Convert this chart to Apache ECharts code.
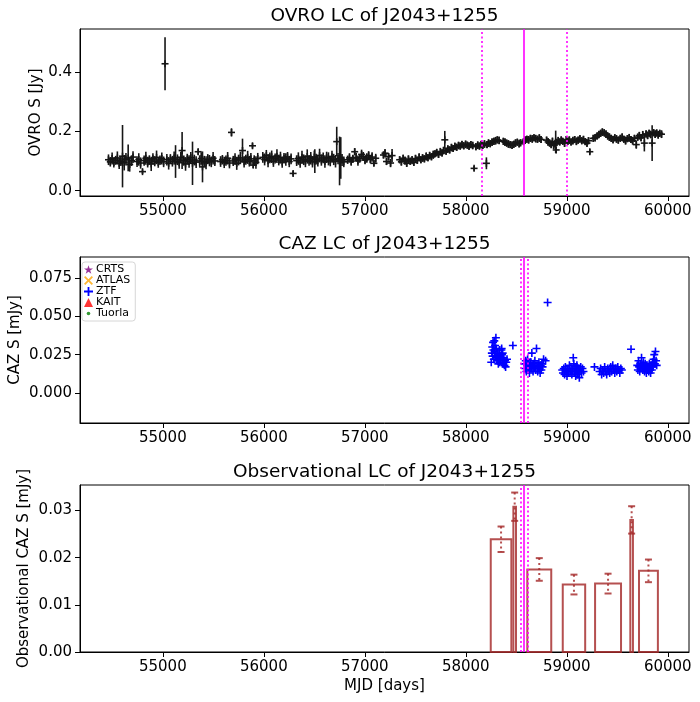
<!DOCTYPE html>
<html>
<head>
<meta charset="utf-8">
<script src="https://cdn.jsdelivr.net/npm/echarts@6/dist/echarts.min.js"></script>
<style>
  html, body { margin: 0; padding: 0; background: #fff; }
  #chart { width: 700px; height: 702px; }
</style>
</head>
<body>
<div id="chart"></div>
<script>
// OVRO 15 GHz light curve: [MJD, flux (Jy), error]
var ovroPoints = [
  [54462,0.104,0.018],[54480,0.097,0.016],[54498,0.108,0.020],[54515,0.095,0.017],[54533,0.102,0.015],
  [54550,0.110,0.022],[54568,0.092,0.019],[54585,0.099,0.016],[54601,0.116,0.105],[54618,0.094,0.026],
  [54635,0.106,0.021],[54657,0.110,0.045],[54672,0.088,0.024],[54690,0.101,0.018],[54705,0.113,0.020],
  [54745,0.098,0.018],[54762,0.105,0.021],[54780,0.093,0.019],[54799,0.064,0.008],[54815,0.101,0.017],
  [54832,0.109,0.022],[54850,0.096,0.018],[54867,0.103,0.016],[54885,0.090,0.024],[54902,0.107,0.019],
  [54920,0.099,0.017],[54938,0.112,0.023],[54955,0.095,0.018],[54972,0.102,0.016],[54990,0.108,0.020],
  [55008,0.097,0.018],[55022,0.427,0.089],[55040,0.104,0.019],[55058,0.092,0.021],[55075,0.106,0.017],
  [55095,0.099,0.018],[55112,0.110,0.022],[55126,0.098,0.055],[55145,0.104,0.018],[55162,0.094,0.020],
  [55178,0.112,0.019],[55191,0.135,0.062],[55208,0.101,0.017],[55225,0.090,0.023],[55242,0.106,0.018],
  [55260,0.098,0.021],[55277,0.111,0.019],[55294,0.092,0.073],[55312,0.103,0.018],[55330,0.096,0.020],
  [55350,0.131,0.010],[55365,0.100,0.019],[55380,0.108,0.021],[55393,0.080,0.052],[55410,0.099,0.018],
  [55428,0.094,0.022],[55445,0.106,0.017],[55462,0.101,0.019],[55480,0.097,0.018],[55498,0.109,0.021],
  [55515,0.100,0.017],
  [55572,0.098,0.018],[55590,0.104,0.016],[55608,0.095,0.019],[55625,0.101,0.017],[55642,0.109,0.021],
  [55660,0.093,0.018],[55680,0.196,0.014],[55697,0.100,0.017],[55715,0.106,0.020],[55732,0.092,0.022],
  [55750,0.103,0.018],[55768,0.110,0.021],[55789,0.135,0.040],[55805,0.097,0.019],[55822,0.104,0.017],
  [55840,0.112,0.022],[55857,0.099,0.018],[55872,0.107,0.020],[55888,0.151,0.009],[55895,0.086,0.010],
  [55905,0.101,0.018],[55922,0.095,0.021],[55940,0.108,0.019],
  [55990,0.112,0.018],[56008,0.105,0.020],[56025,0.118,0.019],[56042,0.101,0.022],[56060,0.110,0.018],
  [56078,0.114,0.021],[56095,0.099,0.019],[56112,0.108,0.017],[56130,0.116,0.023],[56148,0.103,0.018],
  [56165,0.111,0.020],[56182,0.096,0.019],[56200,0.109,0.018],[56218,0.105,0.021],[56235,0.113,0.017],
  [56252,0.098,0.019],[56270,0.107,0.018],[56290,0.058,0.008],
  [56325,0.101,0.018],[56342,0.108,0.021],[56360,0.096,0.019],[56378,0.112,0.022],[56395,0.104,0.018],
  [56412,0.099,0.020],[56430,0.115,0.024],[56448,0.102,0.018],[56465,0.109,0.021],[56482,0.097,0.019],
  [56500,0.113,0.022],[56505,0.099,0.040],[56518,0.106,0.018],[56535,0.101,0.020],[56552,0.118,0.023],
  [56570,0.103,0.019],[56588,0.110,0.018],[56605,0.098,0.021],[56622,0.112,0.019],[56640,0.107,0.022],
  [56658,0.100,0.018],[56675,0.114,0.020],[56692,0.105,0.019],[56710,0.099,0.021],[56722,0.165,0.050],
  [56735,0.108,0.019],[56750,0.100,0.082],[56762,0.110,0.070],[56775,0.103,0.020],[56792,0.097,0.018],
  [56830,0.104,0.014],[56848,0.110,0.016],[56865,0.099,0.015],[56882,0.107,0.014],[56900,0.131,0.012],
  [56915,0.112,0.015],[56932,0.101,0.017],[56950,0.108,0.014],[56968,0.122,0.016],[56985,0.115,0.015],
  [57002,0.103,0.014],[57020,0.110,0.016],[57038,0.118,0.015],[57055,0.106,0.014],[57072,0.113,0.016],
  [57090,0.092,0.010],[57108,0.109,0.015],
  [57185,0.120,0.012],[57200,0.126,0.014],[57215,0.098,0.012],[57235,0.114,0.013],[57255,0.093,0.014],
  [57270,0.118,0.022],
  [57345,0.104,0.012],[57362,0.097,0.013],[57380,0.109,0.012],[57398,0.101,0.014],[57415,0.092,0.012],
  [57432,0.106,0.013],[57450,0.099,0.012],[57468,0.103,0.014],[57485,0.095,0.012],[57502,0.108,0.013],
  [57520,0.102,0.012],[57538,0.112,0.014],[57555,0.104,0.012],[57572,0.110,0.013],[57590,0.107,0.012],
  [57608,0.115,0.014],[57625,0.111,0.012],[57642,0.118,0.013],[57660,0.114,0.012],[57678,0.121,0.014],
  [57695,0.124,0.012],[57712,0.128,0.013],[57730,0.122,0.012],[57748,0.131,0.013],[57765,0.127,0.012],
  [57780,0.135,0.013],[57792,0.171,0.030],[57805,0.133,0.012],[57822,0.140,0.013],[57840,0.137,0.012],
  [57858,0.145,0.013],[57875,0.142,0.012],[57892,0.149,0.013],[57910,0.146,0.012],[57928,0.152,0.013],
  [57945,0.150,0.012],[57962,0.155,0.013],[57980,0.151,0.012],[57998,0.156,0.013],[58015,0.153,0.012],
  [58032,0.150,0.013],[58050,0.155,0.012],[58068,0.152,0.013],[58082,0.075,0.008],[58100,0.148,0.012],
  [58118,0.153,0.013],[58135,0.150,0.012],[58152,0.155,0.013],
  [58168,0.152,0.012],[58185,0.157,0.013],[58204,0.092,0.020],[58210,0.155,0.012],[58225,0.160,0.013],
  [58242,0.158,0.012],[58260,0.163,0.013],[58278,0.166,0.012],[58295,0.168,0.013],[58312,0.171,0.012],
  [58330,0.169,0.013],
  [58372,0.166,0.012],[58388,0.163,0.013],[58405,0.160,0.012],[58422,0.157,0.013],[58440,0.155,0.012],
  [58458,0.153,0.013],[58475,0.156,0.012],[58492,0.160,0.013],[58510,0.163,0.012],[58528,0.158,0.013],
  [58542,0.161,0.012],
  [58572,0.165,0.012],[58588,0.170,0.013],[58605,0.173,0.012],[58622,0.171,0.013],[58640,0.176,0.012],
  [58658,0.174,0.013],[58675,0.178,0.012],[58692,0.175,0.013],[58710,0.173,0.012],[58728,0.177,0.013],
  [58745,0.172,0.012],
  [58800,0.170,0.012],[58815,0.164,0.013],[58830,0.160,0.012],[58845,0.156,0.013],[58858,0.165,0.014],
  [58870,0.152,0.012],[58885,0.158,0.013],[58890,0.164,0.038],[58895,0.137,0.010],[58900,0.162,0.012],
  [58915,0.168,0.013],[58930,0.164,0.012],[58945,0.170,0.013],[58960,0.166,0.012],[58978,0.160,0.013],
  [58995,0.172,0.012],
  [59010,0.166,0.012],[59025,0.170,0.013],[59042,0.164,0.012],[59060,0.168,0.013],[59078,0.172,0.012],
  [59095,0.166,0.013],[59112,0.170,0.012],[59130,0.174,0.013],[59148,0.168,0.012],[59165,0.172,0.013],
  [59182,0.165,0.012],[59200,0.160,0.013],[59215,0.168,0.012],[59228,0.131,0.009],
  [59262,0.176,0.012],[59280,0.178,0.013],[59300,0.184,0.012],[59318,0.189,0.013],[59335,0.193,0.012],
  [59352,0.197,0.013],[59370,0.195,0.012],[59388,0.190,0.013],[59405,0.184,0.012],[59422,0.180,0.013],
  [59440,0.176,0.012],[59458,0.172,0.013],[59475,0.178,0.012],[59492,0.174,0.013],[59510,0.170,0.012],
  [59530,0.176,0.012],[59548,0.180,0.013],[59565,0.173,0.012],[59582,0.168,0.013],[59600,0.175,0.012],
  [59618,0.178,0.013],[59635,0.172,0.012],[59652,0.168,0.013],[59670,0.176,0.012],[59688,0.155,0.014],
  [59702,0.180,0.012],[59718,0.185,0.013],[59735,0.178,0.012],[59752,0.188,0.013],[59768,0.160,0.028],
  [59785,0.191,0.012],[59800,0.186,0.013],[59815,0.193,0.012],[59830,0.189,0.013],[59845,0.160,0.060],
  [59860,0.195,0.012],[59875,0.190,0.013],[59890,0.194,0.012],[59905,0.188,0.013],[59920,0.193,0.012],
  [59938,0.190,0.013]
];

// ZTF optical light curve: [MJD, flux (mJy)]
var ztfPoints = [
  [58252,0.020],[58258,0.026],[58262,0.030],[58266,0.024],[58270,0.033],[58274,0.028],[58278,0.022],
  [58282,0.034],[58286,0.027],[58290,0.031],[58294,0.024],[58298,0.036],[58302,0.029],[58306,0.023],
  [58310,0.026],[58314,0.021],[58318,0.025],[58322,0.019],[58328,0.023],[58333,0.028],[58334,0.020],
  [58340,0.024],[58346,0.022],[58352,0.028],[58355,0.029],[58358,0.025],[58364,0.021],[58365,0.026],
  [58370,0.019],[58376,0.023],[58382,0.018],[58388,0.021],[58394,0.017],[58400,0.020],[58408,0.022],
  [58466,0.031],
  [58582,0.019],[58588,0.016],[58594,0.021],[58600,0.014],[58606,0.018],[58612,0.022],[58618,0.015],
  [58624,0.019],[58630,0.013],[58636,0.017],[58642,0.020],[58648,0.016],[58654,0.026],[58660,0.018],
  [58666,0.014],[58672,0.019],[58678,0.017],[58684,0.021],[58690,0.015],[58700,0.029],[58706,0.018],
  [58712,0.014],[58718,0.017],[58724,0.020],[58730,0.016],[58736,0.013],[58742,0.018],[58748,0.015],
  [58754,0.019],[58760,0.017],[58770,0.022],[58790,0.021],[58810,0.059],
  [58955,0.015],[58962,0.013],[58970,0.016],[58978,0.012],[58986,0.017],[58994,0.014],[59002,0.011],
  [59010,0.015],[59018,0.013],[59026,0.018],[59034,0.014],[59042,0.016],[59050,0.012],[59058,0.015],
  [59064,0.023],[59070,0.019],[59076,0.013],[59082,0.017],[59088,0.011],[59094,0.015],[59100,0.018],
  [59106,0.012],[59112,0.016],[59118,0.014],[59124,0.010],[59130,0.015],[59138,0.017],[59146,0.013],
  [59155,0.016],[59165,0.014],
  [59274,0.017],
  [59325,0.014],[59335,0.016],[59345,0.012],[59355,0.015],[59365,0.013],[59375,0.017],[59385,0.014],
  [59395,0.012],[59405,0.016],[59415,0.015],[59425,0.013],[59435,0.017],[59445,0.014],[59455,0.018],
  [59465,0.015],[59475,0.013],[59485,0.016],[59495,0.014],[59505,0.017],[59515,0.015],[59525,0.013],
  [59535,0.016],[59545,0.015],
  [59636,0.0285],
  [59698,0.018],[59704,0.015],[59710,0.021],[59716,0.017],[59722,0.014],[59728,0.019],[59734,0.016],
  [59740,0.023],[59746,0.018],[59752,0.015],[59758,0.020],[59764,0.017],[59770,0.014],[59776,0.019],
  [59782,0.016],[59788,0.013],[59794,0.018],[59800,0.015],[59806,0.017],[59812,0.014],[59818,0.019],
  [59824,0.016],[59830,0.013],[59836,0.018],[59842,0.015],[59848,0.020],[59854,0.017],[59860,0.022],
  [59866,0.025],[59872,0.019],[59878,0.027],[59884,0.021],[59890,0.018]
];

// observational (binned) light curve
var binStart = [58247, 58471, 58609, 58960, 59280, 59629, 59715];
var binEnd   = [58451, 58497, 58846, 59182, 59537, 59655, 59902];
var binFlux  = [0.0239, 0.0308, 0.0175, 0.0143, 0.0145, 0.0280, 0.0172];
var binErr   = [0.0027, 0.0030, 0.0024, 0.0021, 0.0021, 0.0029, 0.0024];

// flare markers
var ovroPeak = 58575;
var ovroBounds = [58162, 59003];
var cazPeak = 58575;
var cazBounds = [58549, 58611];

var xTicks = [55000, 56000, 57000, 58000, 59000, 60000];
var ovroTicks = [0.0, 0.2, 0.4];
var cazTicks = [0.000, 0.025, 0.050, 0.075];
var obsTicks = [0.00, 0.01, 0.02, 0.03];

var legendNames = ['CRTS', 'ATLAS', 'ZTF', 'KAIT', 'Tuorla'];

var FONT = 'DejaVu Sans';
var ovroColor = '#161616';
var binColor = 'rgba(165,42,42,0.82)';
var flareColor = '#ff00ff';

var ICON_STAR = 'path://M5,0L6.2,3.6L10,3.6L6.9,5.8L8.1,9.5L5,7.2L1.9,9.5L3.1,5.8L0,3.6L3.8,3.6Z';
var ICON_X = 'path://M0,1.4L1.4,0L5,3.6L8.6,0L10,1.4L6.4,5L10,8.6L8.6,10L5,6.4L1.4,10L0,8.6L3.6,5Z';
var ICON_PLUS = 'path://M4,0H6V4H10V6H6V10H4V6H0V4H4Z';
var ICON_DOT = 'path://M0,0M10,10M5,3A2,2 0 1,1 5,7A2,2 0 1,1 5,3Z';

var chart = echarts.init(document.getElementById('chart'));

function xAxisFor(idx, withName) {
  var ax = {
    type: 'value', gridIndex: idx, min: 54180, max: 60210,
    axisLine: { show: true, onZero: false, lineStyle: { color: '#000', width: 1 } },
    axisTick: { show: true, length: 5, customValues: xTicks, lineStyle: { color: '#000' } },
    axisLabel: {
      customValues: xTicks, color: '#000', fontSize: 15, fontFamily: FONT, margin: 8,
      formatter: function (v) { return String(Math.round(v)); }
    },
    splitLine: { show: false }
  };
  if (withName) {
    ax.name = 'MJD [days]';
    ax.nameLocation = 'middle';
    ax.nameGap = 27;
    ax.nameMoveOverlap = false;
    ax.nameTextStyle = { color: '#000', fontSize: 15, fontFamily: FONT };
  }
  return ax;
}

function yAxisFor(idx, min, max, ticks, digits, name, gap) {
  return {
    type: 'value', gridIndex: idx, min: min, max: max,
    name: name, nameLocation: 'middle', nameGap: gap, nameMoveOverlap: false,
    nameTextStyle: { color: '#000', fontSize: 15, fontFamily: FONT },
    axisLine: { show: true, onZero: false, lineStyle: { color: '#000', width: 1 } },
    axisTick: { show: true, length: 5, customValues: ticks, lineStyle: { color: '#000' } },
    axisLabel: {
      customValues: ticks, color: '#000', fontSize: 15, fontFamily: FONT, margin: 8,
      formatter: function (v) { return Number(v).toFixed(digits); }
    },
    splitLine: { show: false }
  };
}

function flareLines(peak, bounds) {
  return {
    silent: true, symbol: 'none', animation: false,
    label: { show: false },
    data: [
      { xAxis: peak, lineStyle: { color: flareColor, width: 1.6, type: 'solid' } },
      { xAxis: bounds[0], lineStyle: { color: flareColor, width: 1.6, type: [2, 2.5] } },
      { xAxis: bounds[1], lineStyle: { color: flareColor, width: 1.6, type: [2, 2.5] } }
    ]
  };
}

function renderErrPlus(params, api) {
  var x = api.value(0), f = api.value(1), e = api.value(2);
  var top = api.coord([x, f + e]);
  var bot = api.coord([x, f - e]);
  var c = api.coord([x, f]);
  var st = { stroke: ovroColor, lineWidth: 1.6 };
  return {
    type: 'group',
    children: [
      { type: 'line', shape: { x1: top[0], y1: top[1], x2: bot[0], y2: bot[1] }, style: st },
      { type: 'line', shape: { x1: c[0] - 3.5, y1: c[1], x2: c[0] + 3.5, y2: c[1] }, style: st },
      { type: 'line', shape: { x1: c[0], y1: c[1] - 3.5, x2: c[0], y2: c[1] + 3.5 }, style: st }
    ]
  };
}

function renderBin(params, api) {
  var x0 = api.value(0), x1 = api.value(1), f = api.value(2), e = api.value(3);
  var p0 = api.coord([x0, 0]);
  var p1 = api.coord([x1, f]);
  var mid = (x0 + x1) / 2;
  var up = api.coord([mid, f + e]);
  var lo = api.coord([mid, f - e]);
  return {
    type: 'group',
    children: [
      { type: 'rect',
        shape: { x: p0[0], y: p1[1], width: p1[0] - p0[0], height: p0[1] - p1[1] },
        style: { fill: 'none', stroke: binColor, lineWidth: 2 } },
      { type: 'line', shape: { x1: up[0], y1: up[1], x2: lo[0], y2: lo[1] },
        style: { stroke: binColor, lineWidth: 2, lineDash: [2, 3] } },
      { type: 'line', shape: { x1: up[0] - 3.5, y1: up[1], x2: up[0] + 3.5, y2: up[1] },
        style: { stroke: binColor, lineWidth: 2 } },
      { type: 'line', shape: { x1: lo[0] - 3.5, y1: lo[1], x2: lo[0] + 3.5, y2: lo[1] },
        style: { stroke: binColor, lineWidth: 2 } }
    ]
  };
}

var binData = binStart.map(function (s, i) {
  return [s, binEnd[i], binFlux[i], binErr[i]];
});

var titleStyle = { color: '#000', fontSize: 18.5, fontWeight: 'normal', fontFamily: FONT };

var gridBase = { left: 80, width: 609, show: true, borderColor: '#000', borderWidth: 1,
                 backgroundColor: '#fff', containLabel: false, outerBoundsMode: 'none' };

var option = {
  animation: false,
  backgroundColor: '#fff',
  title: [
    { text: 'OVRO LC of J2043+1255', left: 384.5, top: 7, textAlign: 'center', padding: 0, textStyle: titleStyle },
    { text: 'CAZ LC of J2043+1255', left: 384.5, top: 235, textAlign: 'center', padding: 0, textStyle: titleStyle },
    { text: 'Observational LC of J2043+1255', left: 384.5, top: 463, textAlign: 'center', padding: 0, textStyle: titleStyle }
  ],
  grid: [
    Object.assign({ top: 29, height: 167 }, gridBase),
    Object.assign({ top: 257, height: 166 }, gridBase),
    Object.assign({ top: 485, height: 167 }, gridBase)
  ],
  xAxis: [xAxisFor(0, false), xAxisFor(1, false), xAxisFor(2, true)],
  yAxis: [
    yAxisFor(0, -0.018, 0.544, ovroTicks, 1, 'OVRO S [Jy]', 36),
    yAxisFor(1, -0.0196, 0.0887, cazTicks, 3, 'CAZ S [mJy]', 57),
    yAxisFor(2, 0, 0.0354, obsTicks, 2, 'Observational CAZ S [mJy]', 48)
  ],
  legend: {
    orient: 'vertical', left: 82, top: 262,
    itemWidth: 9, itemHeight: 9, itemGap: 0,
    padding: [2, 5, 2, 2],
    borderColor: '#d6d6d6', borderWidth: 1, borderRadius: 3,
    backgroundColor: 'rgba(255,255,255,0.8)',
    selectedMode: false,
    textStyle: { color: '#000', fontSize: 11, fontFamily: FONT, lineHeight: 11, padding: [0, 0, 0, -2] },
    data: [
      { name: legendNames[0], icon: ICON_STAR },
      { name: legendNames[1], icon: ICON_X },
      { name: legendNames[2], icon: ICON_PLUS },
      { name: legendNames[3], icon: 'triangle' },
      { name: legendNames[4], icon: ICON_DOT }
    ]
  },
  series: [
    {
      type: 'custom', name: 'OVRO', xAxisIndex: 0, yAxisIndex: 0,
      renderItem: renderErrPlus, data: ovroPoints, encode: { x: 0, y: 1 }, z: 2
    },
    {
      type: 'scatter', name: 'ovroFlare', xAxisIndex: 0, yAxisIndex: 0, data: [], z: 5,
      markLine: flareLines(ovroPeak, ovroBounds)
    },
    { type: 'scatter', name: legendNames[0], xAxisIndex: 1, yAxisIndex: 1, data: [], itemStyle: { color: '#800080' } },
    { type: 'scatter', name: legendNames[1], xAxisIndex: 1, yAxisIndex: 1, data: [], itemStyle: { color: '#ffa500' } },
    {
      type: 'scatter', name: legendNames[2], xAxisIndex: 1, yAxisIndex: 1,
      data: ztfPoints, symbol: ICON_PLUS, symbolSize: 8,
      itemStyle: { color: '#0000ff', opacity: 1 }, z: 3
    },
    { type: 'scatter', name: legendNames[3], xAxisIndex: 1, yAxisIndex: 1, data: [], itemStyle: { color: '#ff0000' } },
    { type: 'scatter', name: legendNames[4], xAxisIndex: 1, yAxisIndex: 1, data: [], itemStyle: { color: '#008000' } },
    {
      type: 'scatter', name: 'cazFlare', xAxisIndex: 1, yAxisIndex: 1, data: [], z: 5,
      markLine: flareLines(cazPeak, cazBounds)
    },
    {
      type: 'custom', name: 'bins', xAxisIndex: 2, yAxisIndex: 2,
      renderItem: renderBin, data: binData, encode: { x: [0, 1], y: 2 }, z: 2
    },
    {
      type: 'scatter', name: 'obsFlare', xAxisIndex: 2, yAxisIndex: 2, data: [], z: 5,
      markLine: flareLines(cazPeak, cazBounds)
    }
  ]
};

chart.setOption(option);
</script>
</body>
</html>
